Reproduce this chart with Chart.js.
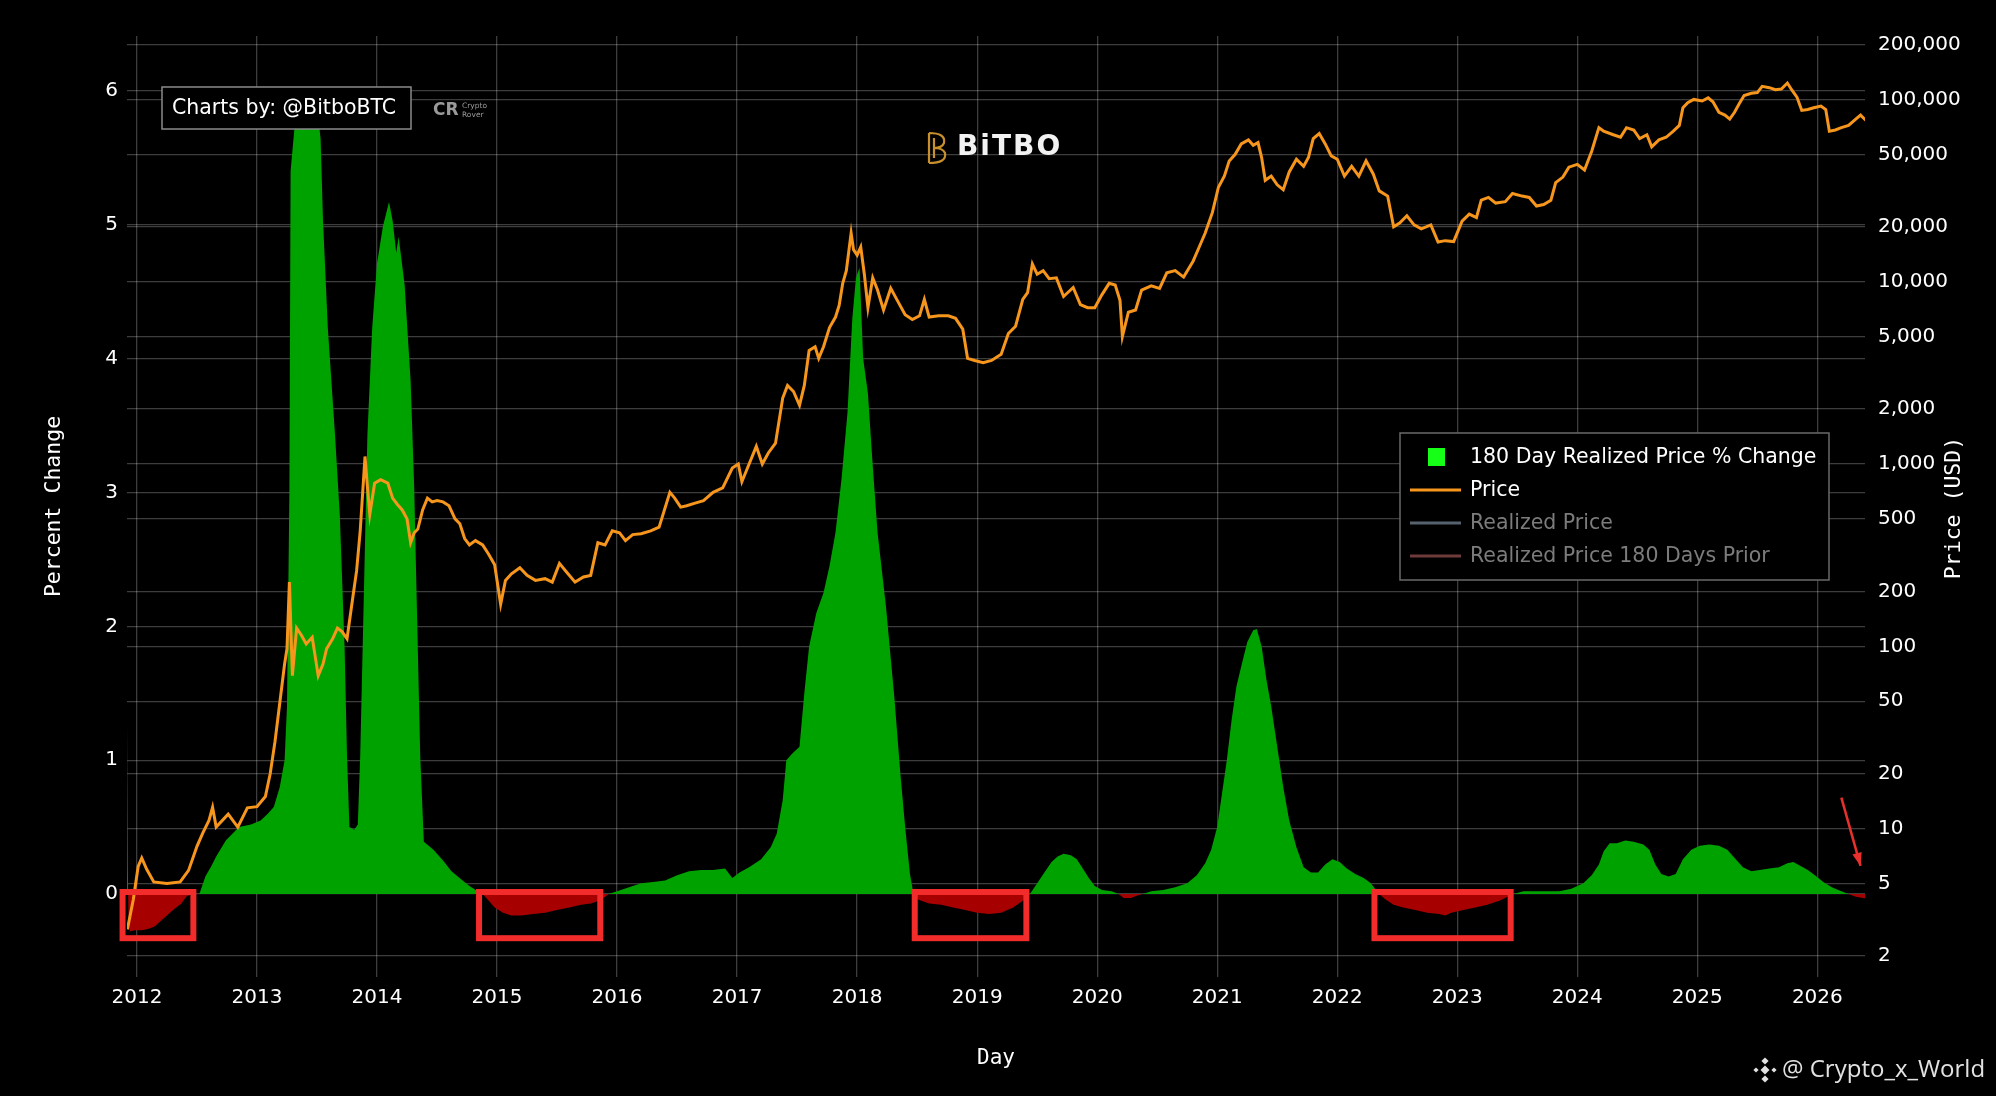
<!DOCTYPE html>
<html>
<head>
<meta charset="utf-8">
<script src="https://cdn.jsdelivr.net/npm/chart.js@4.4.1/dist/chart.umd.min.js"></script>
<style>
  html, body { margin: 0; padding: 0; background: #000; }
  #wrap { width: 1996px; height: 1096px; }
</style>
</head>
<body>
<div id="wrap"><canvas id="chart" width="1996" height="1096"></canvas></div>
<script>
// 180 day realized price % change (1 = 100%)
const pctYears = [
  2011.918, 2011.924, 2011.93, 2011.94, 2011.98, 2012.04, 2012.1, 2012.15, 2012.2, 2012.25, 2012.3, 2012.37, 2012.41, 2012.45, 2012.52,
  2012.57, 2012.62, 2012.66, 2012.74, 2012.85, 2012.95, 2013.03, 2013.09, 2013.14, 2013.19,
  2013.23, 2013.25, 2013.27, 2013.28, 2013.31, 2013.34, 2013.39, 2013.45, 2013.5, 2013.53, 2013.55, 2013.59, 2013.65, 2013.69, 2013.73,
  2013.75, 2013.77, 2013.81, 2013.84, 2013.86, 2013.89, 2013.92, 2013.96, 2014.0, 2014.05, 2014.1, 2014.13, 2014.16, 2014.18, 2014.23,
  2014.28, 2014.31, 2014.33, 2014.36, 2014.39, 2014.47,
  2014.55, 2014.62, 2014.7, 2014.77, 2014.84, 2014.88,
  2014.92, 2014.98, 2015.05, 2015.12, 2015.2, 2015.3, 2015.4, 2015.5, 2015.6, 2015.7, 2015.78, 2015.85, 2015.9, 2015.93,
  2016.0, 2016.1, 2016.2, 2016.3, 2016.4, 2016.5, 2016.6, 2016.7, 2016.8, 2016.9, 2016.96, 2017.02, 2017.1, 2017.2, 2017.28,
  2017.33, 2017.38, 2017.41, 2017.46, 2017.52, 2017.56, 2017.6, 2017.66, 2017.72, 2017.77, 2017.82, 2017.87, 2017.92, 2017.96, 2017.99,
  2018.02, 2018.05, 2018.09, 2018.13, 2018.17, 2018.24, 2018.31, 2018.36, 2018.4, 2018.44, 2018.47,
  2018.5, 2018.6, 2018.7, 2018.8, 2018.9, 2019.0, 2019.1, 2019.2, 2019.3, 2019.38, 2019.44,
  2019.5, 2019.56, 2019.62, 2019.67, 2019.72, 2019.78, 2019.83, 2019.88, 2019.93, 2019.98, 2020.04, 2020.12, 2020.18, 2020.22, 2020.28,
  2020.34, 2020.38, 2020.45, 2020.55, 2020.65, 2020.75, 2020.83, 2020.9, 2020.95, 2021.0, 2021.04, 2021.08, 2021.12, 2021.16, 2021.2,
  2021.25, 2021.3, 2021.33, 2021.37, 2021.41, 2021.45, 2021.5, 2021.55, 2021.6, 2021.66, 2021.72, 2021.78, 2021.84, 2021.9, 2021.96,
  2022.02, 2022.08, 2022.15, 2022.22, 2022.28, 2022.33, 2022.35,
  2022.4, 2022.47, 2022.55, 2022.65, 2022.75, 2022.85, 2022.9, 2022.95, 2023.05, 2023.15, 2023.25, 2023.35, 2023.42, 2023.47,
  2023.55, 2023.7, 2023.85, 2023.95, 2024.05, 2024.12, 2024.18, 2024.22, 2024.27, 2024.33, 2024.4, 2024.47, 2024.55, 2024.6, 2024.65,
  2024.7, 2024.76, 2024.82, 2024.88, 2024.95, 2025.02, 2025.1, 2025.18, 2025.25, 2025.32, 2025.38, 2025.45, 2025.52, 2025.6, 2025.68,
  2025.75, 2025.8, 2025.86, 2025.92, 2025.98, 2026.05, 2026.12, 2026.2, 2026.26, 2026.32, 2026.38, 2026.43
];
const pctChange = [
  1.26, 0.2, -0.22, -0.28, -0.27, -0.27, -0.26, -0.24, -0.2, -0.16, -0.12, -0.07, -0.02, 0.0, 0.0,
  0.13, 0.21, 0.28, 0.4, 0.5, 0.52, 0.55, 0.6, 0.65, 0.8,
  1.0, 1.4, 3.0, 5.4, 5.7, 5.95, 6.0, 6.0, 5.9, 5.64, 5.03, 4.23, 3.43, 2.83, 1.83,
  1.03, 0.5, 0.48, 0.52, 1.03, 2.22, 3.43, 4.23, 4.71, 4.99, 5.17, 5.03, 4.79, 4.91, 4.55,
  3.83, 3.03, 2.22, 1.03, 0.39, 0.33,
  0.25, 0.17, 0.11, 0.06, 0.02, 0.0,
  -0.04, -0.1, -0.14, -0.16, -0.16, -0.15, -0.14, -0.12, -0.1, -0.08, -0.07, -0.05, -0.02, 0.0,
  0.02, 0.05, 0.08, 0.09, 0.1, 0.14, 0.17, 0.18, 0.18, 0.19, 0.12, 0.16, 0.2, 0.26, 0.35,
  0.45, 0.7, 1.0, 1.05, 1.1, 1.5, 1.85, 2.1, 2.25, 2.45, 2.7, 3.1, 3.6, 4.3, 4.6,
  4.68, 4.0, 3.74, 3.2, 2.7, 2.15, 1.47, 0.9, 0.5, 0.15, 0.0,
  -0.04, -0.07, -0.08, -0.1, -0.12, -0.14, -0.15, -0.14, -0.1, -0.05, 0.0,
  0.08, 0.16, 0.24, 0.28, 0.3, 0.29, 0.26, 0.19, 0.12, 0.06, 0.03, 0.02, 0.0, -0.03, -0.03,
  -0.01, 0.0, 0.02, 0.03, 0.05, 0.08, 0.14, 0.23, 0.33, 0.5, 0.75, 1.0, 1.3, 1.55, 1.7,
  1.88, 1.97, 1.98, 1.85, 1.6, 1.4, 1.1, 0.8, 0.55, 0.35, 0.2, 0.16, 0.16, 0.22, 0.26,
  0.24, 0.19, 0.15, 0.12, 0.08, 0.02, 0.0,
  -0.04, -0.08, -0.1, -0.12, -0.14, -0.15, -0.16, -0.14, -0.12, -0.1, -0.08, -0.05, -0.02, 0.0,
  0.02, 0.02, 0.02, 0.04, 0.08, 0.14, 0.22, 0.32, 0.38, 0.38, 0.4, 0.39, 0.37, 0.33, 0.22,
  0.15, 0.13, 0.15, 0.26, 0.33, 0.36, 0.37, 0.36, 0.33, 0.26, 0.2, 0.17, 0.18, 0.19, 0.2,
  0.23, 0.24, 0.21, 0.18, 0.14, 0.09, 0.05, 0.02, 0.0, -0.02, -0.03, -0.035
];

// BTC price, USD
const priceYears = [
  2011.92, 2011.97, 2012.01, 2012.04, 2012.08, 2012.14, 2012.25, 2012.36, 2012.43, 2012.5, 2012.55, 2012.6, 2012.63, 2012.66, 2012.76,
  2012.84, 2012.92, 2013.0,
  2013.07, 2013.11, 2013.15, 2013.19, 2013.23, 2013.25, 2013.27, 2013.285, 2013.295, 2013.33, 2013.37, 2013.41, 2013.46, 2013.51, 2013.55, 2013.58,
  2013.63, 2013.67, 2013.71, 2013.75, 2013.8, 2013.83, 2013.86, 2013.9, 2013.92, 2013.94, 2013.98, 2014.03, 2014.09, 2014.13, 2014.17,
  2014.21, 2014.25, 2014.28, 2014.31, 2014.34, 2014.38, 2014.42, 2014.46, 2014.5,
  2014.55, 2014.6, 2014.65, 2014.69, 2014.73, 2014.77, 2014.82, 2014.88, 2014.93, 2014.98, 2015.03,
  2015.07, 2015.12, 2015.19, 2015.25, 2015.32, 2015.4,
  2015.46, 2015.52, 2015.57, 2015.65, 2015.72, 2015.78, 2015.84, 2015.9, 2015.96, 2016.02, 2016.07, 2016.13, 2016.2, 2016.28, 2016.35,
  2016.44, 2016.48, 2016.53, 2016.58, 2016.65, 2016.72, 2016.8, 2016.88, 2016.96, 2017.01, 2017.04, 2017.1, 2017.16, 2017.21, 2017.26,
  2017.32, 2017.38, 2017.42, 2017.47, 2017.52, 2017.56, 2017.6, 2017.65, 2017.68, 2017.72, 2017.77, 2017.82, 2017.85, 2017.88, 2017.91,
  2017.95, 2017.97, 2018.0, 2018.03, 2018.06, 2018.09, 2018.13, 2018.17, 2018.22, 2018.28, 2018.33, 2018.4, 2018.46, 2018.52, 2018.56,
  2018.6, 2018.68, 2018.76, 2018.82, 2018.88, 2018.92, 2018.98, 2019.05, 2019.12, 2019.2, 2019.26, 2019.32, 2019.38, 2019.42, 2019.46,
  2019.5, 2019.55, 2019.6, 2019.66, 2019.72, 2019.8, 2019.86, 2019.92, 2019.98, 2020.04, 2020.1, 2020.15, 2020.19, 2020.21, 2020.26,
  2020.32, 2020.37, 2020.45, 2020.52, 2020.58, 2020.65, 2020.72, 2020.8, 2020.85, 2020.9, 2020.96, 2021.01, 2021.06, 2021.1, 2021.15,
  2021.2, 2021.26, 2021.3, 2021.34, 2021.37, 2021.4, 2021.45, 2021.5, 2021.55, 2021.6, 2021.66, 2021.72, 2021.76, 2021.8, 2021.85,
  2021.9, 2021.95, 2022.0, 2022.06, 2022.12, 2022.18, 2022.24, 2022.3, 2022.35, 2022.42, 2022.47, 2022.52, 2022.58, 2022.64, 2022.7,
  2022.78, 2022.84, 2022.9, 2022.97, 2023.04, 2023.1, 2023.16, 2023.2, 2023.26, 2023.32, 2023.4, 2023.46, 2023.54, 2023.6, 2023.66,
  2023.72, 2023.78, 2023.82, 2023.88, 2023.93, 2024.0, 2024.06, 2024.12, 2024.18, 2024.22, 2024.3, 2024.36, 2024.41, 2024.47, 2024.52,
  2024.58, 2024.62, 2024.68, 2024.74, 2024.8, 2024.85, 2024.88, 2024.92, 2024.97, 2025.04, 2025.09, 2025.13, 2025.18, 2025.23, 2025.27,
  2025.31, 2025.35, 2025.39, 2025.45, 2025.5, 2025.54, 2025.6, 2025.65, 2025.7, 2025.75, 2025.79, 2025.83, 2025.87, 2025.92, 2025.97,
  2026.03, 2026.07, 2026.1, 2026.15, 2026.2, 2026.26, 2026.32, 2026.36, 2026.42
];
const priceUsd = [
  2.8, 4.1, 6.2, 6.9, 6.0, 5.1, 5.0, 5.1, 5.9, 8.0, 9.5, 11.1, 13.1, 10.2, 12,
  10.2, 13, 13.2,
  15, 20, 30, 49, 80, 97, 225, 110, 69, 126, 115, 103, 112, 69, 80, 97,
  110, 126, 120, 110, 189, 260, 430, 1100, 750, 530, 785, 820, 785, 650, 600,
  560, 500, 370, 420, 440, 560, 650, 620, 630,
  620, 590, 500, 470, 390, 360, 380, 360, 320, 280, 170,
  230, 250, 270, 245, 230, 235,
  225, 285, 260, 225, 240, 245, 370, 360, 430, 420, 380, 410, 415, 430, 450,
  700, 650, 580, 590, 610, 630, 700, 740, 950, 1000, 800, 1000, 1250, 1000, 1150,
  1300, 2300, 2700, 2500, 2100, 2700, 4200, 4400, 3800, 4400, 5600, 6400, 7400, 9800, 11500,
  18500, 15000, 14000, 15500, 11000, 7200, 10500, 9000, 7000, 9200, 8000, 6600, 6200, 6500, 8000,
  6400, 6500, 6500, 6300, 5500, 3800, 3700, 3600, 3700, 4000, 5200, 5700, 8000, 8700, 12500,
  11000, 11500, 10400, 10500, 8300, 9300, 7500, 7200, 7200, 8500, 9800, 9600, 7900, 5000, 6800,
  7000, 9000, 9500, 9200, 11200, 11500, 10600, 13000, 15500, 18500, 24000, 33000, 38000, 46000, 50000,
  57000, 60000, 56000, 58000, 48000, 36000, 38000, 34000, 32000, 40000, 47000, 43000, 48000, 61000, 65000,
  57000, 49000, 47000, 38000, 43000, 38000, 46000, 39000, 31500, 29500, 20000, 21000, 23000, 20500, 19500,
  20500, 16500, 16800, 16600, 21500, 23500, 22500, 28000, 29000, 27000, 27500, 30500, 29500, 29000, 26000,
  26500, 28000, 35000, 37500, 42500, 44000, 41000, 52000, 70000, 67000, 64000, 62000, 70000, 68000, 61000,
  64000, 55000, 60000, 62000, 67000, 72000, 90000, 96000, 100000, 98000, 102000, 97000, 85000, 82000, 78000,
  85000, 95000, 105000, 108000, 109000, 118000, 116000, 113000, 114000, 123000, 112000, 103000, 87000, 88000, 90000,
  92000, 88000, 67000, 68000, 70000, 72000, 78000, 82000, 75000
];

const yearTicks = [2012, 2013, 2014, 2015, 2016, 2017, 2018, 2019, 2020, 2021, 2022, 2023, 2024, 2025, 2026];
const pctTicks = [0, 1, 2, 3, 4, 5, 6];
const priceTicks = [2, 5, 10, 20, 50, 100, 200, 500, 1000, 2000, 5000, 10000, 20000, 50000, 100000, 200000];

// red highlight boxes drawn over the negative stretches (years)
const highlightSpans = [[2011.88, 2012.47], [2014.85, 2015.86], [2018.48, 2019.41], [2022.31, 2023.445]];

const gridColor = 'rgba(255,255,255,0.24)';
const sans = 'DejaVu Sans';
const mono = 'DejaVu Sans Mono';

const overlay = {
  id: 'overlay',
  afterDraw(chart) {
    const { ctx, scales: { x, yPct } } = chart;
    ctx.save();

    // highlight boxes
    ctx.strokeStyle = '#f22b2b';
    ctx.lineWidth = 6;
    const yTop = yPct.getPixelForValue(0.015);
    const yBot = yPct.getPixelForValue(-0.33);
    highlightSpans.forEach(([a, b]) => {
      const x0 = x.getPixelForValue(a), x1 = x.getPixelForValue(b);
      ctx.strokeRect(x0, yTop, x1 - x0, yBot - yTop);
    });

    // arrow pointing at the latest value
    const ax0 = x.getPixelForValue(2026.2), ay0 = yPct.getPixelForValue(0.72);
    const ax1 = x.getPixelForValue(2026.36), ay1 = yPct.getPixelForValue(0.21);
    ctx.strokeStyle = '#e8302c';
    ctx.fillStyle = '#e8302c';
    ctx.lineWidth = 2.5;
    ctx.beginPath(); ctx.moveTo(ax0, ay0); ctx.lineTo(ax1, ay1); ctx.stroke();
    const ang = Math.atan2(ay1 - ay0, ax1 - ax0);
    ctx.beginPath();
    ctx.moveTo(ax1, ay1);
    ctx.lineTo(ax1 - 14 * Math.cos(ang - 0.35), ay1 - 14 * Math.sin(ang - 0.35));
    ctx.lineTo(ax1 - 14 * Math.cos(ang + 0.35), ay1 - 14 * Math.sin(ang + 0.35));
    ctx.closePath(); ctx.fill();

    // "Charts by" box
    ctx.fillStyle = '#000';
    ctx.fillRect(162, 87, 249, 42);
    ctx.strokeStyle = '#8a8a8a';
    ctx.lineWidth = 1.5;
    ctx.strokeRect(162, 87, 249, 42);
    ctx.fillStyle = '#fff';
    ctx.font = '20.5px "' + sans + '"';
    ctx.textBaseline = 'middle';
    ctx.textAlign = 'left';
    ctx.fillText('Charts by: @BitboBTC', 172, 109);

    // Crypto Rover mark
    ctx.fillStyle = '#9a9a9a';
    ctx.font = 'bold 17px "' + sans + '"';
    ctx.fillText('CR', 433, 111);
    ctx.font = '7.5px "' + sans + '"';
    ctx.fillText('Crypto', 462, 106);
    ctx.fillText('Rover', 462, 115);

    // BITBO logo
    ctx.strokeStyle = '#c8902c';
    ctx.lineWidth = 2.2;
    ctx.beginPath();
    ctx.moveTo(929, 133); ctx.lineTo(929, 163);
    ctx.moveTo(929, 133); ctx.quadraticCurveTo(946, 133, 944, 143); ctx.quadraticCurveTo(942, 148, 934, 148);
    ctx.moveTo(929, 163); ctx.quadraticCurveTo(947, 163, 945, 153); ctx.quadraticCurveTo(943, 148, 934, 148);
    ctx.moveTo(934, 138); ctx.lineTo(934, 158);
    ctx.stroke();
    ctx.fillStyle = '#f2f2f2';
    ctx.font = 'bold 28px "' + sans + '"';
    ctx.letterSpacing = '2px';
    ctx.fillText('BiTBO', 957, 148);
    ctx.letterSpacing = '0px';

    // legend
    const lx = 1400, ly = 433, lw = 429, lh = 147;
    ctx.fillStyle = '#000';
    ctx.fillRect(lx, ly, lw, lh);
    ctx.strokeStyle = '#6a6a6a';
    ctx.lineWidth = 1.5;
    ctx.strokeRect(lx, ly, lw, lh);
    ctx.font = '20.5px "' + sans + '"';
    chart.data.datasets.forEach((ds, i) => {
      const cy = ly + 24 + i * 33;
      if (ds.legendBox) {
        ctx.fillStyle = ds.legendBox;
        ctx.fillRect(1428, cy - 9, 17, 18);
      } else {
        ctx.strokeStyle = ds.borderColor;
        ctx.lineWidth = 3;
        ctx.beginPath(); ctx.moveTo(1410, cy); ctx.lineTo(1461, cy); ctx.stroke();
      }
      ctx.fillStyle = ds.hidden ? '#7c7c7c' : '#fff';
      ctx.fillText(ds.label, 1470, cy + 1);
    });

    // right axis title (reads bottom to top)
    ctx.save();
    ctx.translate(1954, 508);
    ctx.rotate(-Math.PI / 2);
    ctx.textAlign = 'center';
    ctx.fillStyle = '#fff';
    ctx.font = '21.5px "' + mono + '"';
    ctx.fillText('Price (USD)', 0, 0);
    ctx.restore();

    // watermark
    ctx.fillStyle = '#e2e2e2';
    const wx = 1765, wy = 1070;
    [[0, 0, 4.5], [-9, 0, 2.6], [9, 0, 2.6], [0, -9, 3.6], [0, 9, 3.6]].forEach(([dx, dy, r]) => {
      ctx.beginPath();
      ctx.moveTo(wx + dx, wy + dy - r); ctx.lineTo(wx + dx + r, wy + dy);
      ctx.lineTo(wx + dx, wy + dy + r); ctx.lineTo(wx + dx - r, wy + dy);
      ctx.closePath(); ctx.fill();
    });
    ctx.font = '24px "Open Sans"';
    ctx.fillText('@ Crypto_x_World', 1782, wy);

    ctx.restore();
  }
};

new Chart(document.getElementById('chart').getContext('2d'), {
  type: 'line',
  data: {
    datasets: [
      {
        label: '180 Day Realized Price % Change',
        data: pctYears.map((v, i) => ({ x: v, y: pctChange[i] })),
        yAxisID: 'yPct',
        borderWidth: 0,
        borderColor: 'rgba(0,0,0,0)',
        pointRadius: 0,
        fill: { target: 'origin', above: '#00a200', below: '#a60000' },
        legendBox: '#16ff16',
        order: 2
      },
      {
        label: 'Price',
        data: priceYears.map((v, i) => ({ x: v, y: priceUsd[i] })),
        yAxisID: 'yPrice',
        borderColor: '#f7961c',
        borderWidth: 3,
        pointRadius: 0,
        fill: false,
        order: 1
      },
      { label: 'Realized Price', data: [], yAxisID: 'yPrice', borderColor: '#56636e', hidden: true, pointRadius: 0 },
      { label: 'Realized Price 180 Days Prior', data: [], yAxisID: 'yPrice', borderColor: '#6e3a3a', hidden: true, pointRadius: 0 }
    ]
  },
  options: {
    responsive: false,
    animation: false,
    devicePixelRatio: 1,
    layout: { padding: { top: 36, left: 0, right: 0, bottom: 0 } },
    plugins: { legend: { display: false }, tooltip: { enabled: false } },
    elements: { line: { tension: 0 } },
    scales: {
      x: {
        type: 'linear',
        min: 2011.917,
        max: 2026.397,
        border: { display: false },
        grid: { color: gridColor, lineWidth: 1.3, drawTicks: false },
        ticks: { color: '#fff', font: { family: sans, size: 20 }, padding: 9, maxRotation: 0, autoSkip: false, callback: v => String(v) },
        afterBuildTicks: s => { s.ticks = yearTicks.map(v => ({ value: v })); },
        afterFit: s => { s.height = 119; },
        title: { display: true, text: 'Day', color: '#fff', font: { family: mono, size: 21 }, padding: { bottom: 25 } }
      },
      yPct: {
        type: 'linear',
        position: 'left',
        min: -0.62,
        max: 6.41,
        border: { display: false },
        grid: { color: gridColor, lineWidth: 1.3, drawTicks: false },
        ticks: { color: '#fff', font: { family: sans, size: 20 }, padding: 9, autoSkip: false },
        afterBuildTicks: s => { s.ticks = pctTicks.map(v => ({ value: v })); },
        afterFit: s => { s.width = 127; },
        title: { display: true, text: 'Percent Change', color: '#fff', font: { family: mono, size: 21.5 }, padding: { top: 42 } }
      },
      yPrice: {
        type: 'logarithmic',
        position: 'right',
        min: 1.535,
        max: 222800,
        border: { display: false },
        grid: { color: gridColor, lineWidth: 1.3, drawTicks: false },
        ticks: { color: '#fff', font: { family: sans, size: 20 }, padding: 13, autoSkip: false, callback: v => Number(v).toLocaleString('en-US') },
        afterBuildTicks: s => { s.ticks = priceTicks.map(v => ({ value: v })); },
        afterFit: s => { s.width = 131; }
      }
    }
  },
  plugins: [overlay]
});
</script>
</body>
</html>
